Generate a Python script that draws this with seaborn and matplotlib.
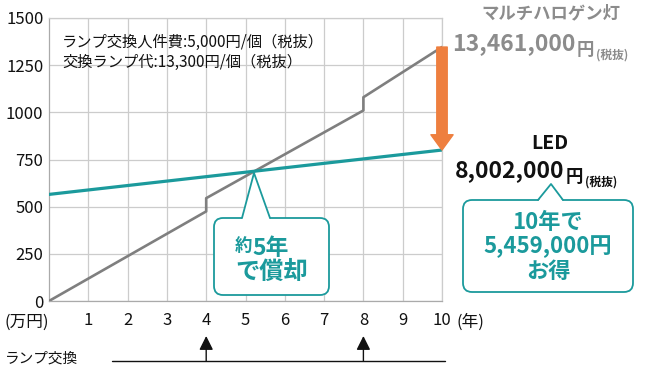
import matplotlib.pyplot as plt
import matplotlib.transforms as mtransforms
from matplotlib.patches import FancyBboxPatch, Polygon
from matplotlib.lines import Line2D
from matplotlib.text import Annotation
import pandas as pd
import seaborn as sns

# data (万円)
halogen_years = [0, 4, 4, 8, 8, 10]
halogen_cost = [0, 475, 545, 1010, 1080, 1346.1]
led_years = [0, 10]
led_cost = [565, 800.2]
replace_years = [4, 8]
year_ticks = [1, 2, 3, 4, 5, 6, 7, 8, 9, 10]
cost_ticks = [0, 250, 500, 750, 1000, 1250, 1500]

GRAY = "#7f7f7f"
TEAL = "#1b9a9c"
ORANGE = "#ee7f3f"
GRID = "#cccccc"

sns.set_theme(style="whitegrid")
plt.rcParams['font.family'] = ['Noto Sans CJK JP', 'DejaVu Sans']

W, H = 650, 370
fig = plt.figure(figsize=(6.5, 3.7), dpi=100)
ax = fig.add_axes([49 / W, 1 - 301 / H, (442 - 49) / W, (301 - 18) / H])

df_h = pd.DataFrame({"year": halogen_years, "cost": halogen_cost})
df_l = pd.DataFrame({"year": led_years, "cost": led_cost})
sns.lineplot(data=df_h, x="year", y="cost", estimator=None, sort=False,
             color=GRAY, linewidth=1.9, ax=ax, zorder=3)
sns.lineplot(data=df_l, x="year", y="cost", estimator=None, sort=False,
             color=TEAL, linewidth=2.3, ax=ax, zorder=3)

ax.set_xlim(0, 10)
ax.set_ylim(0, 1500)
ax.set_xticks(year_ticks)
ax.set_yticks(cost_ticks)
ax.set_xlabel("")
ax.set_ylabel("")
ax.grid(True, color=GRID, linewidth=0.9)
for s in ax.spines.values():
    s.set_color(GRID)
    s.set_linewidth(0.9)
ax.spines["left"].set_color("#aaaaaa")
ax.spines["bottom"].set_color("#aaaaaa")
ax.tick_params(axis="both", length=0, labelsize=12, colors="#111111")
ax.tick_params(axis="x", pad=8)
ax.tick_params(axis="y", pad=4)

# orange arrow showing the difference
ax.annotate("", xy=(10, led_cost[-1]), xytext=(10, halogen_cost[-1]),
            arrowprops=dict(arrowstyle="simple,head_width=1.6,head_length=1.1,tail_width=0.75",
                            mutation_scale=10, color=ORANGE, shrinkA=0, shrinkB=0),
            zorder=5)


def fx(px):
    return px / W


def fy(py):
    return 1 - py / H


def ftext(px, py, s, **kw):
    return fig.text(fx(px), fy(py), s, **kw)


def after(prev, s, dx=0, **kw):
    # put text s right after text artist prev, sharing its baseline
    ann = Annotation(s, xy=(1, 0), xycoords=prev, xytext=(dx, 0),
                     textcoords="offset points", ha="left", va="baseline", **kw)
    fig.add_artist(ann)
    return ann


# axis unit labels
ftext(5, 322, "(万円)", fontsize=12, va="center", ha="left", color="#111111")
ftext(457, 322, "(年)", fontsize=12, va="center", ha="left", color="#111111")

# notes
ftext(62, 42, "ランプ交換人件費:5,000円/個（税抜）", fontsize=11, va="center", color="#111111")
ftext(62, 62, "交換ランプ代:13,300円/個（税抜）", fontsize=11, va="center", color="#111111")

# halogen label
hc = "#8c8c8c"
ftext(551, 13, "マルチハロゲン灯", fontsize=12.5, fontweight="bold", color=hc,
      ha="center", va="center")
t = ftext(452, 50, "13,461,000", fontsize=16.5, fontweight="bold", color=hc,
          ha="left", va="baseline")
t2 = after(t, "円", dx=1, fontsize=12.5, fontweight="bold", color=hc)
after(t2, "(税抜)", dx=1, fontsize=8.5, fontweight="bold", color=hc)

# LED label
ftext(550, 143, "LED", fontsize=14, fontweight="bold", color="#111111", ha="center", va="center")
t = ftext(455, 177, "8,002,000", fontsize=16.5, fontweight="bold", color="#111111",
          ha="left", va="baseline")
t2 = after(t, "円", dx=1, fontsize=12.5, fontweight="bold", color="#111111")
after(t2, "(税抜)", dx=1, fontsize=8.5, fontweight="bold", color="#111111")

# callouts (pixel coordinates, y down)
ident = mtransforms.IdentityTransform()


def callout(x0, y0, x1, y1, bl, br, tip):
    box = FancyBboxPatch((x0, H - y1), x1 - x0, y1 - y0,
                         boxstyle="round,pad=0,rounding_size=9",
                         facecolor="white", edgecolor=TEAL, linewidth=1.3,
                         transform=ident, zorder=6)
    fig.add_artist(box)
    tri = Polygon([(bl, H - y0 - 1.5), (tip[0], H - tip[1]), (br, H - y0 - 1.5)],
                  closed=True, facecolor="white", edgecolor="none",
                  transform=ident, zorder=7)
    fig.add_artist(tri)
    edge = Line2D([bl, tip[0], br], [H - y0, H - tip[1], H - y0],
                  color=TEAL, linewidth=1.3, transform=ident, zorder=8)
    fig.add_artist(edge)


callout(214, 218, 329, 295, 242, 270, (254, 173))
callout(463, 200, 633, 292, 538, 563, (551, 184))

t = ftext(235, 251, "約", fontsize=12.5, fontweight="bold", color=TEAL, ha="left",
          va="baseline", zorder=9)
after(t, "5年", dx=0, fontsize=16.5, fontweight="bold", color=TEAL, zorder=9)
ftext(272, 272, "で償却", fontsize=17.5, fontweight="bold", color=TEAL, ha="center",
      va="center", zorder=9)

for py, line in zip([223, 247, 271], ["10年で", "5,459,000円", "お得"]):
    ftext(548, py, line, fontsize=16, fontweight="bold", color=TEAL,
          ha="center", va="center", zorder=9)

# replacement timeline
ftext(5, 359, "ランプ交換", fontsize=10.5, color="#111111", ha="left", va="center")
fig.add_artist(Line2D([112, 445], [H - 361, H - 361], color="#111111", linewidth=1.0,
                      transform=ident))
for yr in replace_years:
    ax.annotate("", xy=(yr, fy(336)), xytext=(yr, fy(361)),
                xycoords=("data", "figure fraction"), textcoords=("data", "figure fraction"),
                arrowprops=dict(arrowstyle="-|>,head_width=0.35,head_length=0.7",
                                color="#111111", linewidth=1.0, shrinkA=0, shrinkB=0),
                annotation_clip=False)

fig.savefig("out.png", dpi=100)
